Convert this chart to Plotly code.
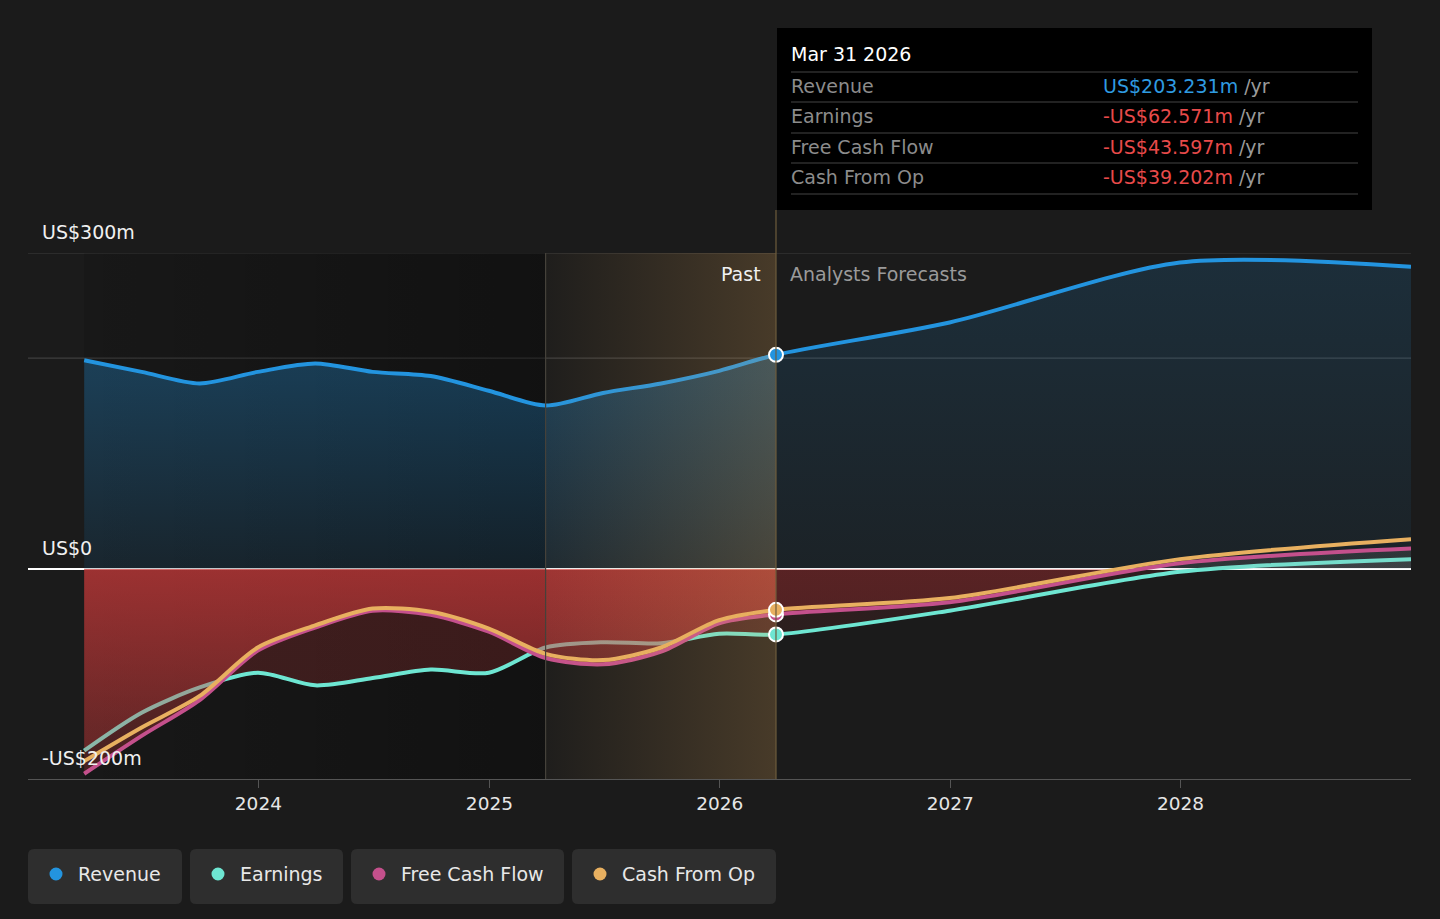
import plotly.graph_objects as go
import pandas as pd

# ---------------- data ----------------
past_dates = ['2023-03-31', '2023-06-30', '2023-09-30', '2023-12-31', '2024-03-31', '2024-06-30',
              '2024-09-30', '2024-12-31', '2025-03-31', '2025-06-30', '2025-09-30', '2025-12-31',
              '2026-03-31']
forecast_dates = ['2026-03-31', '2026-12-31', '2027-12-31', '2028-12-31']

revenue_past = [198, 187, 176, 187, 195, 187, 183, 169, 155, 167, 176, 188, 203.231]
revenue_forecast = [203.231, 234, 291, 287]

earnings_past = [-173, -137, -113, -99, -111, -104, -96, -99, -75, -70, -71, -62, -62.571]
earnings_forecast = [-62.571, -40, -3, 9]

fcf_past = [-195, -159, -125, -78, -56, -40, -44, -60, -85, -91, -79, -52, -43.597]
fcf_forecast = [-43.597, -32, 5, 19]

cfo_past = [-183, -151, -121, -75, -54, -38, -41, -57, -81, -87, -75, -49, -39.202]
cfo_forecast = [-39.202, -28, 9, 28]

series_names = ['Revenue', 'Earnings', 'Free Cash Flow', 'Cash From Op']
series_colors = ['#2394df', '#6ee6d2', '#c4508c', '#e8b060']

x_ticks = ['2024-01-01', '2025-01-01', '2026-01-01', '2027-01-01', '2028-01-01']
x_tick_text = ['2024', '2025', '2026', '2027', '2028']
y_label_vals = [300, 0, -200]
y_label_text = ['US$300m', 'US$0', '-US$200m']
y_grid_vals = [200, 300]

Y_MIN, Y_MAX = -200, 300
X_RANGE = ['2023-01-01', '2028-12-31']

# ---------------- layout helpers (pixel -> paper) ----------------
W, H = 1440, 919
L, R, T, B = 28, 1411, 253, 779
FS = 19


def px(v):
    return (v - L) / (R - L)


def py(v):
    return (B - v) / (B - T)


def rrect(x0, y0, x1, y1, r):
    X, Y = px, py
    return (f"M{X(x0 + r)},{Y(y0)} L{X(x1 - r)},{Y(y0)} Q{X(x1)},{Y(y0)} {X(x1)},{Y(y0 + r)} "
            f"L{X(x1)},{Y(y1 - r)} Q{X(x1)},{Y(y1)} {X(x1 - r)},{Y(y1)} "
            f"L{X(x0 + r)},{Y(y1)} Q{X(x0)},{Y(y1)} {X(x0)},{Y(y1 - r)} "
            f"L{X(x0)},{Y(y0 + r)} Q{X(x0)},{Y(y0)} {X(x0 + r)},{Y(y0)} Z")


FONT = 'DejaVu Sans'
past_end = past_dates[-1]
band_start = past_dates[-5]
all_dates = past_dates + forecast_dates[1:]

fig = go.Figure()


def vgrad(stops):
    return dict(type='vertical', start=Y_MIN, stop=Y_MAX, colorscale=stops)


def sign_scale(neg_bottom, neg_top, pos):
    z = (0 - Y_MIN) / (Y_MAX - Y_MIN)
    return [[0, neg_bottom], [z, neg_top], [z, pos], [1, pos]]


# past darkening overlay
fig.add_trace(go.Scatter(
    x=[past_dates[0], band_start, band_start, past_dates[0]], y=[Y_MIN, Y_MIN, Y_MAX, Y_MAX],
    fill='toself', mode='lines', line=dict(width=0), hoverinfo='skip', showlegend=False,
    fillgradient=dict(type='horizontal', colorscale=[[0, 'rgba(0,0,0,0.12)'], [1, 'rgba(0,0,0,0.36)']])))

SPL = dict(shape='spline', smoothing=0.8)

# revenue fills
fig.add_trace(go.Scatter(
    x=past_dates, y=revenue_past, fill='tozeroy', mode='lines', line=dict(width=0, **SPL),
    hoverinfo='skip', showlegend=False,
    fillgradient=vgrad([[0, 'rgba(35,148,223,0.10)'], [0.4, 'rgba(35,148,223,0.11)'],
                        [0.76, 'rgba(35,148,223,0.30)'], [1, 'rgba(35,148,223,0.38)']])))
fig.add_trace(go.Scatter(
    x=forecast_dates, y=revenue_forecast, fill='tozeroy', mode='lines',
    line=dict(width=0, **SPL), hoverinfo='skip', showlegend=False,
    fillgradient=vgrad([[0, 'rgba(35,148,223,0.05)'], [0.4, 'rgba(35,148,223,0.06)'],
                        [1, 'rgba(35,148,223,0.16)']])))

# earnings fills
fig.add_trace(go.Scatter(
    x=past_dates, y=earnings_past, fill='tozeroy', mode='lines', line=dict(width=0, **SPL),
    hoverinfo='skip', showlegend=False,
    fillgradient=vgrad(sign_scale('rgba(210,60,60,0.20)', 'rgba(210,60,60,0.22)', 'rgba(160,160,160,0.12)'))))
fig.add_trace(go.Scatter(
    x=forecast_dates, y=earnings_forecast, fill='tozeroy', mode='lines',
    line=dict(width=0, **SPL), hoverinfo='skip', showlegend=False,
    fillgradient=vgrad(sign_scale('rgba(210,60,60,0.08)', 'rgba(210,60,60,0.10)', 'rgba(160,160,160,0.12)'))))

# earnings line (under cash flow fills)
fig.add_trace(go.Scatter(
    x=all_dates, y=earnings_past + earnings_forecast[1:], mode='lines', name=series_names[1],
    line=dict(color=series_colors[1], width=4, **SPL), hoverinfo='skip', showlegend=False))

# cash flow fills
fig.add_trace(go.Scatter(
    x=past_dates, y=fcf_past, fill='tozeroy', mode='lines', line=dict(width=0, **SPL),
    hoverinfo='skip', showlegend=False,
    fillgradient=vgrad([[0, 'rgba(210,60,60,0.24)'], [0.1, 'rgba(210,60,60,0.30)'],
                        [0.4, 'rgba(210,60,60,0.63)'], [0.4, 'rgba(160,160,160,0.12)'],
                        [1, 'rgba(160,160,160,0.12)']])))
fig.add_trace(go.Scatter(
    x=forecast_dates, y=fcf_forecast, fill='tozeroy', mode='lines',
    line=dict(width=0, **SPL), hoverinfo='skip', showlegend=False,
    fillgradient=vgrad([[0, 'rgba(200,45,50,0.10)'], [0.4, 'rgba(200,45,50,0.28)'],
                        [0.4, 'rgba(160,160,160,0.14)'], [1, 'rgba(160,160,160,0.14)']])))

# lines
fig.add_trace(go.Scatter(
    x=all_dates, y=revenue_past + revenue_forecast[1:], mode='lines', name=series_names[0],
    line=dict(color=series_colors[0], width=4, **SPL), hoverinfo='skip', showlegend=False))
fig.add_trace(go.Scatter(
    x=all_dates, y=fcf_past + fcf_forecast[1:], mode='lines', name=series_names[2],
    line=dict(color=series_colors[2], width=4, **SPL), hoverinfo='skip', showlegend=False))
fig.add_trace(go.Scatter(
    x=all_dates, y=cfo_past + cfo_forecast[1:], mode='lines', name=series_names[3],
    line=dict(color=series_colors[3], width=4, **SPL), hoverinfo='skip', showlegend=False))

# highlight band (last year of the past)
fig.add_trace(go.Scatter(
    x=[band_start, past_end, past_end, band_start], y=[Y_MIN, Y_MIN, Y_MAX, Y_MAX],
    fill='toself', mode='lines', line=dict(width=0), hoverinfo='skip', showlegend=False,
    fillgradient=dict(type='horizontal', colorscale=[[0, 'rgba(230,170,90,0.02)'], [1, 'rgba(230,170,90,0.22)']])))

# end-of-past markers
last_vals = [revenue_past[-1], earnings_past[-1], fcf_past[-1], cfo_past[-1]]
for v, c in zip(last_vals, series_colors):
    fig.add_trace(go.Scatter(
        x=[past_end], y=[v], mode='markers', hoverinfo='skip', showlegend=False,
        marker=dict(size=14, color=c, line=dict(color='#ffffff', width=2))))

shapes = []
annotations = []

# horizontal grid lines
for gv in y_grid_vals:
    shapes.append(dict(type='line', xref='paper', yref='y', x0=0, x1=1, y0=gv, y1=gv,
                       line=dict(color='#3f3f3f', width=1.2), layer='below'))

# divider lines
shapes.append(dict(type='line', xref='x', yref='paper', x0=band_start, x1=band_start, y0=0, y1=1,
                   line=dict(color='#45413a', width=1.2)))
shapes.append(dict(type='line', xref='x', yref='paper', x0=past_end, x1=past_end, y0=0, y1=py(210),
                   line=dict(color='#6e5c3c', width=1.2)))

# y labels
for v, t in zip(y_label_vals, y_label_text):
    annotations.append(dict(text=t, xref='paper', yref='y', x=px(40), y=v, xanchor='left', yanchor='middle',
                            yshift=21, showarrow=False, font=dict(family=FONT, size=FS, color='#f0f0f0')))

# past / forecast labels
annotations.append(dict(text='Past', xref='x', yref='y', x=past_end, y=Y_MAX, xanchor='right', yanchor='middle',
                        xshift=-13, yshift=-21, showarrow=False, font=dict(family=FONT, size=FS, color='#f0f0f0')))
annotations.append(dict(text='Analysts Forecasts', xref='x', yref='y', x=past_end, y=Y_MAX, xanchor='left',
                        yanchor='middle', xshift=12, yshift=-21, showarrow=False,
                        font=dict(family=FONT, size=FS, color='#9a9a9a')))

# tooltip box
shapes.append(dict(type='rect', xref='paper', yref='paper', x0=px(777), x1=px(1372), y0=py(210), y1=py(28),
                   fillcolor='#000000', line=dict(width=0), layer='above'))
for yy in [72, 102, 133, 163, 194]:
    shapes.append(dict(type='line', xref='paper', yref='paper', x0=px(791), x1=px(1358), y0=py(yy), y1=py(yy),
                       line=dict(color='#444444', width=1.2), layer='above'))
annotations.append(dict(text=pd.Timestamp(past_end).strftime('%b %d %Y'), xref='paper', yref='paper',
                        x=px(789), y=py(54), xanchor='left', yanchor='middle', showarrow=False,
                        font=dict(family=FONT, size=FS, color='#ffffff')))


def money(v):
    return f"US${v:.3f}m" if v >= 0 else f"-US${abs(v):.3f}m"


for name, v, yy in zip(series_names, last_vals, [86, 116, 147, 177]):
    col = '#2f9be1' if v >= 0 else '#e84a4a'
    annotations.append(dict(text=name, xref='paper', yref='paper', x=px(789), y=py(yy), xanchor='left',
                            yanchor='middle', showarrow=False, font=dict(family=FONT, size=FS, color='#8c8c8c')))
    annotations.append(dict(text=f"<span style='color:{col}'>{money(v)}</span> /yr", xref='paper', yref='paper',
                            x=px(1101), y=py(yy), xanchor='left', yanchor='middle', showarrow=False,
                            font=dict(family=FONT, size=FS, color='#9a9a9a')))

# legend chips
legend_boxes = [(28, 182), (190, 343), (351, 564), (572, 776)]
for (x0, x1), name, col in zip(legend_boxes, series_names, series_colors):
    shapes.append(dict(type='path', xref='paper', yref='paper', path=rrect(x0, 849, x1, 904, 6),
                       fillcolor='#2e2e2e', line=dict(width=0), layer='above'))
    cx = x0 + 28
    shapes.append(dict(type='circle', xref='paper', yref='paper', x0=px(cx - 6.5), x1=px(cx + 6.5),
                       y0=py(874 + 6.5), y1=py(874 - 6.5), fillcolor=col, line=dict(width=0), layer='above'))
    annotations.append(dict(text=name, xref='paper', yref='paper', x=px(x0 + 48), y=py(874), xanchor='left',
                            yanchor='middle', showarrow=False, font=dict(family=FONT, size=FS, color='#e8e8e8')))

fig.update_layout(
    width=W, height=H,
    margin=dict(l=L, r=W - R, t=T, b=H - B, pad=0),
    paper_bgcolor='#1b1b1b', plot_bgcolor='#1b1b1b',
    showlegend=False, hovermode=False,
    font=dict(family=FONT, color='#e0e0e0'),
    shapes=shapes, annotations=annotations,
    xaxis=dict(type='date', range=X_RANGE, tickvals=x_ticks, ticktext=x_tick_text, showgrid=False,
               showline=True, linecolor='#555555', linewidth=1.2, ticks='outside', ticklen=8,
               tickcolor='#555555', tickfont=dict(family=FONT, size=18.5, color='#e6e6e6'), zeroline=False,
               fixedrange=True),
    yaxis=dict(range=[Y_MIN, Y_MAX], tickvals=y_grid_vals, showticklabels=False, showgrid=False,
               zeroline=True, zerolinecolor='#ffffff', zerolinewidth=1.5,
               showline=False, ticks='', fixedrange=True),
)

fig.write_html("out.html", config=dict(displayModeBar=False),
               post_script="document.body.style.margin='0';document.body.style.overflow='hidden';")
